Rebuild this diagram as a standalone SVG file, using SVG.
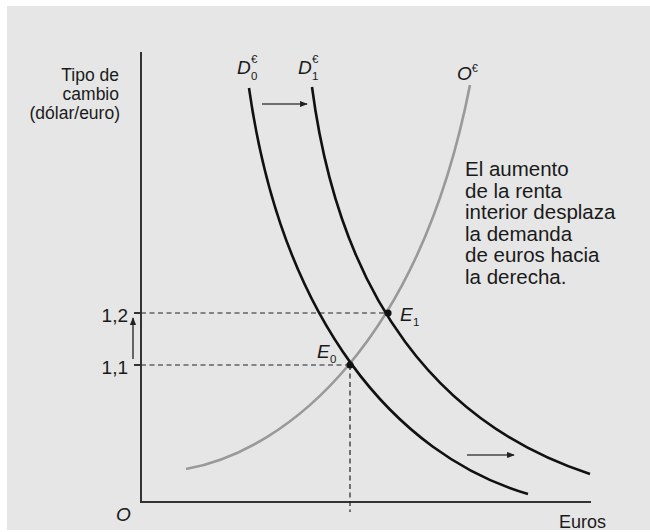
<svg xmlns="http://www.w3.org/2000/svg" width="650" height="532" viewBox="0 0 650 532">
<style>
.t{font-family:"Liberation Sans",Arial,sans-serif;fill:#1a1a1a}
.i{font-style:italic}
.ax{stroke:#333;stroke-width:2;fill:none}
.d{stroke:#111;stroke-width:2.6;fill:none}
.o{stroke:#999;stroke-width:2.6;fill:none}
.dash{stroke:#222;stroke-width:1.2;stroke-dasharray:5 3.5;fill:none}
.arr{stroke:#444;stroke-width:1.6;fill:none}
</style>
<defs>
<marker id="ah" viewBox="0 0 10 10" refX="9" refY="5" markerWidth="8" markerHeight="8" markerUnits="userSpaceOnUse" orient="auto">
<path d="M0,1 L10,5 L0,9 Z" fill="#222"/>
</marker>
</defs>
<rect x="7" y="6" width="643" height="524" fill="#e6e6e6"/>
<g id="axes">
<path class="ax" d="M141,52 V502 H591"/>
<path class="ax" d="M134,313 H141 M134,365 H141" stroke-width="1.5"/>
<text class="t" x="128" y="322" font-size="19" text-anchor="end">1,2</text>
<text class="t" x="128" y="374" font-size="19" text-anchor="end">1,1</text>
<text class="t i" x="116" y="521" font-size="19">O</text>
<text class="t" x="606" y="528" font-size="18" text-anchor="end">Euros</text>
<text class="t" font-size="17.5" text-anchor="end"><tspan x="119" y="81">Tipo de</tspan><tspan x="119" y="100">cambio</tspan><tspan x="120" y="119">(dólar/euro)</tspan></text>
</g>
<g id="connectors">
<path class="dash" d="M141,313 H388 M141,365 H350 M350,365 V512"/>
<path class="arr" d="M133,359 V318" marker-end="url(#ah)"/>
<path class="arr" d="M262,104 H307" marker-end="url(#ah)"/>
<path class="arr" d="M467,455 H514" marker-end="url(#ah)"/>
</g>
<g id="curve-O">
<path class="o" d="M186,469 C290,450 420,340 470,85"/>
<text class="t i" x="457" y="80" font-size="19">O<tspan font-size="11" font-style="normal" dy="-8">€</tspan></text>
</g>
<g id="curve-D0">
<path class="d" d="M249,88 C282,320 395,455 528,494"/>
<text class="t i" x="237" y="74" font-size="19">D</text>
<text class="t" x="251" y="80" font-size="11.5">0</text>
<text class="t" x="251" y="63" font-size="11.5">€</text>
</g>
<g id="curve-D1">
<path class="d" d="M312,87 C340,300 440,425 590,474"/>
<text class="t i" x="298" y="74" font-size="19">D</text>
<text class="t" x="312" y="80" font-size="11.5">1</text>
<text class="t" x="312" y="63" font-size="11.5">€</text>
</g>
<g id="E0">
<circle cx="350" cy="365" r="3.6" fill="#111"/>
<text class="t i" x="317" y="358" font-size="19">E</text>
<text class="t" x="330" y="363" font-size="11.5">0</text>
</g>
<g id="E1">
<circle cx="388" cy="313" r="3.6" fill="#111"/>
<text class="t i" x="400" y="321" font-size="19">E</text>
<text class="t" x="413" y="326" font-size="11.5">1</text>
</g>
<g id="note">
<text class="t" font-size="20.5"><tspan x="465" y="176">El aumento</tspan><tspan x="465" y="197.5">de la renta</tspan><tspan x="465" y="219">interior desplaza</tspan><tspan x="465" y="240.5">la demanda</tspan><tspan x="465" y="262">de euros hacia</tspan><tspan x="465" y="283.5">la derecha.</tspan></text>
</g>
</svg>
